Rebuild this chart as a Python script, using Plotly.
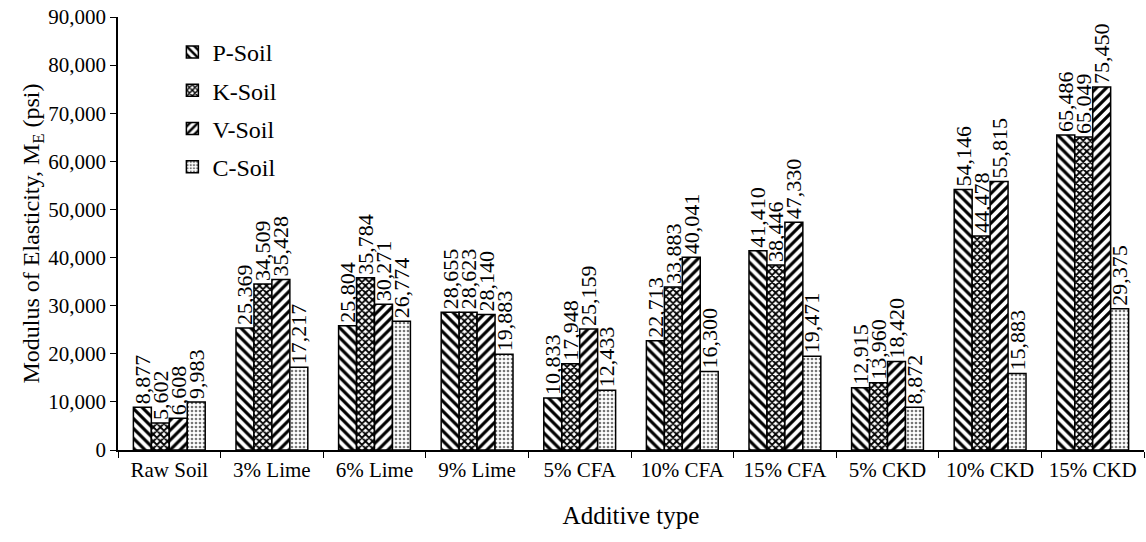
import plotly.graph_objects as go

# data
additives = ['Raw Soil', '3% Lime', '6% Lime', '9% Lime', '5% CFA',
             '10% CFA', '15% CFA', '5% CKD', '10% CKD', '15% CKD']
p_soil = [8877, 25369, 25804, 28655, 10833, 22713, 41410, 12915, 54146, 65486]
k_soil = [5602, 34509, 35784, 28623, 17948, 33883, 38446, 13960, 44478, 65049]
v_soil = [6608, 35428, 30271, 28140, 25159, 40041, 47330, 18420, 55815, 75450]
c_soil = [9983, 17217, 26774, 19883, 12433, 16300, 19471, 8872, 15883, 29375]

series = [('P-Soil', p_soil, '\\', 'black', 7, 0.45),
          ('K-Soil', k_soil, 'x', 'black', 5, 0.6),
          ('V-Soil', v_soil, '/', 'black', 7, 0.45),
          ('C-Soil', c_soil, '.', '#777777', 4, 0.35)]

serif = 'Liberation Serif'

fig = go.Figure()
for name, vals, shape, fg, size, sol in series:
    fig.add_trace(go.Bar(
        name=name, x=additives, y=vals, legendgroup=name,
        marker=dict(color='white',
                    line=dict(color='black', width=1.5),
                    pattern=dict(shape=shape, fgcolor=fg, bgcolor='white',
                                 size=size, solidity=sol, fillmode='replace')),
        texttemplate='%{y:,}', textposition='outside', textangle=-90,
        constraintext='none', cliponaxis=False,
        textfont=dict(family=serif, size=22, color='black'),
    ))

fig.update_layout(
    barmode='group', bargap=0.3, bargroupgap=0,
    width=1146, height=542,
    margin=dict(l=118, r=2, t=17, b=92),
    plot_bgcolor='white', paper_bgcolor='white',
    font=dict(family=serif, color='black'),
    uniformtext=dict(mode=False),
    legend=dict(x=0.053, y=0.97, xanchor='left', yanchor='top',
                font=dict(family=serif, size=24), tracegroupgap=4,
                itemwidth=30, bgcolor='rgba(0,0,0,0)'),
    xaxis=dict(showline=True, linecolor='black', linewidth=1.5,
               ticks='outside', tickson='boundaries', ticklen=6,
               tickcolor='black', tickfont=dict(size=21),
               automargin=False,
               title=dict(text='Additive type', font=dict(size=25), standoff=26)),
    yaxis=dict(range=[0, 90000], dtick=10000, tickformat=',',
               showline=True, linecolor='black', linewidth=1.5,
               ticks='outside', ticklen=6, tickcolor='black', automargin=False,
               ticklabeloverflow='allow',
               showgrid=False, zeroline=False, tickfont=dict(size=21),
               title=dict(text='Modulus of Elasticity, M<sub>E</sub> (psi)',
                          font=dict(size=24), standoff=0)),
)

# drop the default 8px body margin so the figure sits at the page corner
fig.write_html('out.html', config={'displayModeBar': False},
               post_script="document.body.style.margin='0';")
